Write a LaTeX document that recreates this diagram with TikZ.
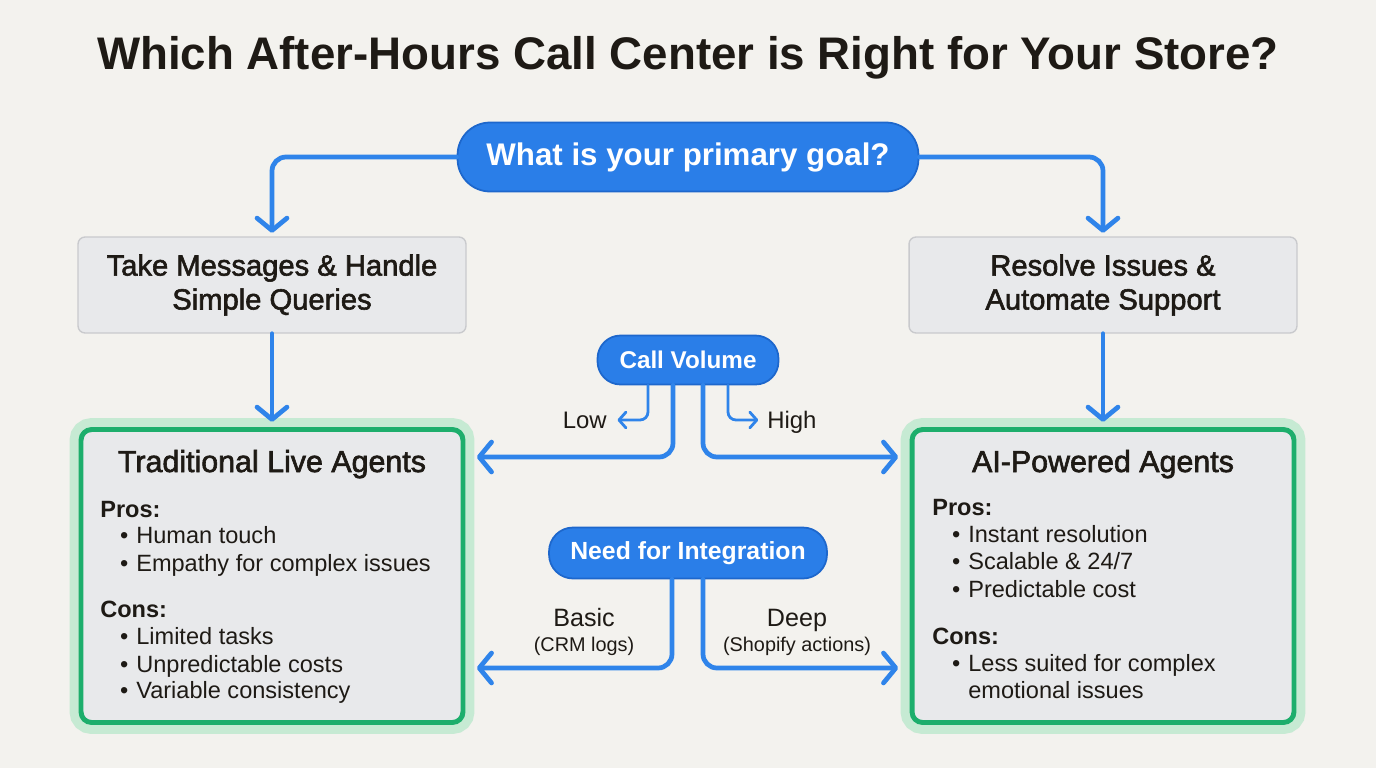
\documentclass[tikz,border=0pt]{standalone}
\usepackage{fontspec}
\setmainfont{Liberation Sans}
\newfontfamily\medfont{Liberation Sans}[FakeBold=2]
\usetikzlibrary{arrows.meta,positioning}

\definecolor{paper}{HTML}{F3F2EE}
\definecolor{ink}{HTML}{1E1A15}
\definecolor{flowblue}{HTML}{2F84EA}
\definecolor{pillblue}{HTML}{2A7EE8}
\definecolor{pilledge}{HTML}{1D67CC}
\definecolor{boxgray}{HTML}{E8E9EB}
\definecolor{boxedge}{HTML}{C9CACD}
\definecolor{agentgreen}{HTML}{1DAE6C}
\definecolor{glowgreen}{HTML}{C6EAD3}

\newcommand\fsize[2]{\fontsize{#1}{#2}\selectfont}

\tikzset{
  pill/.style={draw=pilledge, line width=1pt, fill=pillblue, text=white, inner sep=0pt},
  choice/.style={draw=boxedge, line width=0.8pt, fill=boxgray, rounded corners=4pt,
    minimum width=7.76cm, minimum height=1.92cm, align=center, text=ink,
    font=\medfont\fsize{16.6}{19.3}},
  agent/.style={draw=agentgreen, line width=2.8pt, fill=boxgray, rounded corners=6pt,
    minimum width=7.64cm, minimum height=5.86cm,
    preaction={draw=glowgreen, line width=13pt}},
  agenttitle/.style={anchor=base, text=ink, font=\medfont\fsize{17.3}{20}},
  head/.style={anchor=base west, text=ink, inner sep=0pt, font=\bfseries\fsize{13.4}{16}},
  item/.style={anchor=base west, text=ink, inner sep=0pt, font=\fsize{13.4}{16}},
  note/.style={text=ink, inner sep=0pt, text height=9.7pt, text depth=0pt, font=\fsize{13.6}{16}},
  branch/.style={anchor=base, text=ink, inner sep=0pt, font=\fsize{14.3}{17}},
  subbranch/.style={anchor=base, text=ink, inner sep=0pt, font=\fsize{11.3}{13}},
  flow/.style={draw=flowblue, line width=2.7pt, line cap=round, rounded corners=0.28cm,
    -{Straight Barb[length=7pt,width=17pt,round]}},
  thinflow/.style={draw=flowblue, line width=1.6pt, line cap=round, rounded corners=0.16cm,
    -{Straight Barb[length=4pt,width=9pt,round]}},
}

\begin{document}
\begin{tikzpicture}[x=0.02cm,y=-0.02cm]
  \fill[paper] (0,0) rectangle (1376,768);
  \useasboundingbox (0,0) rectangle (1376,768);

  % title and question
  \node[anchor=base, text=ink, font=\bfseries\fsize{26}{30}] (title) at (688,69)
    {Which After-Hours Call Center is Right for Your Store?};
  \node[pill, minimum width=9.22cm, minimum height=1.38cm, rounded corners=0.65cm,
    font=\bfseries\fsize{17.8}{20}] (goal) at (688,157) {What is your primary goal?};

  % goals
  \node[choice] (msg) at (272,285) {Take Messages \& Handle\\Simple Queries};
  \node[choice] (res) at (1103,285) {Resolve Issues \&\\Automate Support};

  % agent boxes
  \node[agent] (trad) at (272,576) {};
  \node[agent] (ai) at (1103,576) {};
  \node[agenttitle] (tradtitle) at (272,472) {Traditional Live Agents};
  \node[agenttitle] (aititle) at (1103,472) {AI-Powered Agents};

  \node[head] (tradpros) at (100,517) {Pros:};
  \node[head] (tradcons) at (100,617) {Cons:};
  \foreach \y/\t in {543/Human touch, 571/Empathy for complex issues,
                     644/Limited tasks, 672/Unpredictable costs, 698/Variable consistency}
    \node[item] (trad-\y) at (136,\y) {\llap{\textbullet\hspace{4.5pt}}\t};

  \node[head] (aipros) at (932,515) {Pros:};
  \node[head] (aicons) at (932,644) {Cons:};
  \foreach \y/\t in {542/Instant resolution, 569/{Scalable \& 24/7},
                     597/Predictable cost, 671/Less suited for complex}
    \node[item] (ai-\y) at (968,\y) {\llap{\textbullet\hspace{4.5pt}}\t};
  \node[item] (ai-698) at (968,698) {emotional issues};

  % deciding factors
  \node[pill, minimum width=3.62cm, minimum height=0.98cm, rounded corners=0.46cm,
    font=\bfseries\fsize{13.8}{16}] (vol) at (688,360) {Call Volume};
  \node[pill, minimum width=5.56cm, minimum height=1.02cm, rounded corners=0.48cm,
    font=\bfseries\fsize{14.1}{16}] (need) at (688,553) {Need for Integration};

  \node[note, anchor=east] (low) at (607,420) {Low};
  \node[note, anchor=west] (high) at (767,420) {High};
  \node[branch] (basic) at (584,626) {Basic};
  \node[subbranch] (basicsub) at (584,651) {(CRM logs)};
  \node[branch] (deep) at (797,626) {Deep};
  \node[subbranch] (deepsub) at (797,651) {(Shopify actions)};

  \coordinate (volrow) at (688,457);
  \coordinate (needrow) at (688,668);

  % connectors
  \draw[flow, shorten >=2pt] (goal.west) -| (msg.north);
  \draw[flow, shorten >=2pt] (goal.east) -| (res.north);
  \draw[flow, shorten >=3pt] (msg) -- (trad);
  \draw[flow, shorten >=3pt] (res) -- (ai);

  \draw[flow, shorten >=6.5pt] ([xshift=-0.3cm]vol.south) |- (trad.east |- volrow);
  \draw[flow, shorten >=6.5pt] ([xshift=0.3cm]vol.south) |- (ai.west |- volrow);
  \draw[thinflow, shorten >=6pt] ([xshift=-0.8cm]vol.south) |- (low);
  \draw[thinflow, shorten >=5pt] ([xshift=0.8cm]vol.south) |- (high);

  \draw[flow, shorten >=6.5pt] ([xshift=-0.32cm]need.south) |- (trad.east |- needrow);
  \draw[flow, shorten >=6.5pt] ([xshift=0.3cm]need.south) |- (ai.west |- needrow);
\end{tikzpicture}
\end{document}
